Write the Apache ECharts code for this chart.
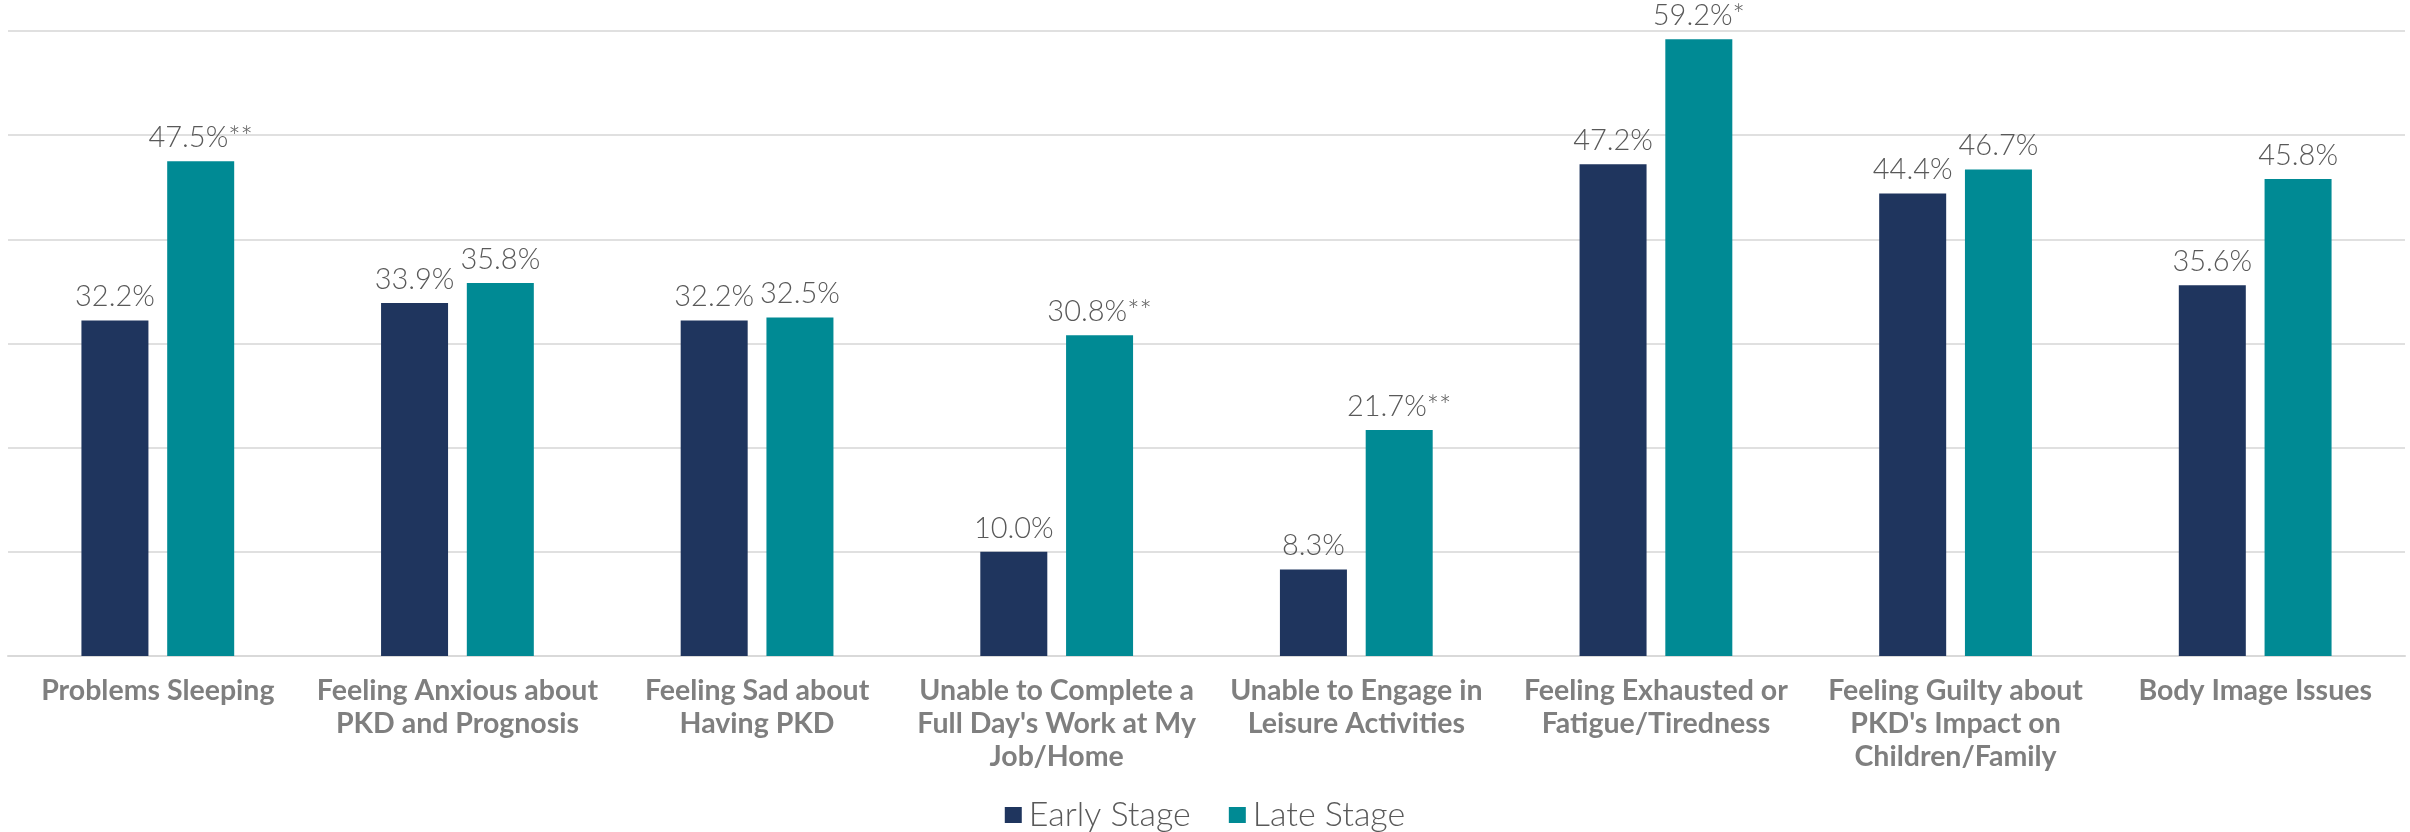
<!DOCTYPE html>
<html>
<head>
<meta charset="utf-8">
<script src="https://cdn.jsdelivr.net/npm/echarts@6/dist/echarts.min.js"></script>
<style>
html,body{margin:0;padding:0;background:#fff;}
#chart{width:2410px;height:832px;}
</style>
</head>
<body>
<div id="chart"></div>
<script>
const categories = [
  "Problems Sleeping",
  "Feeling Anxious about\nPKD and Prognosis",
  "Feeling Sad about\nHaving PKD",
  "Unable to Complete a\nFull Day's Work at My\nJob/Home",
  "Unable to Engage in\nLeisure Activities",
  "Feeling Exhausted or\nFatigue/Tiredness",
  "Feeling Guilty about\nPKD's Impact on\nChildren/Family",
  "Body Image Issues"
];
const seriesNames = ["Early Stage", "Late Stage"];
const earlyStage = [32.2, 33.9, 32.2, 10.0, 8.3, 47.2, 44.4, 35.6];
const lateStage = [47.5, 35.8, 32.5, 30.8, 21.7, 59.2, 46.7, 45.8];
const earlyMarks = ["", "", "", "", "", "", "", ""];
const lateMarks = ["**", "", "", "**", "**", "*", "", ""];
const yTicks = [0, 10, 20, 30, 40, 50, 60];

const chart = echarts.init(document.getElementById('chart'), null, {renderer: 'canvas'});
const labelStyle = (marks) => ({
  show: true,
  position: 'top',
  distance: 9,
  fontFamily: 'Lato',
  fontWeight: 300,
  fontSize: 29,
  color: '#595959',
  formatter: p => p.value.toFixed(1) + '%' + marks[p.dataIndex]
});
chart.setOption({
  animation: false,
  backgroundColor: '#ffffff',
  grid: {left: 8, right: 5, top: 31, bottom: 176, containLabel: false},
  legend: {
    data: seriesNames,
    top: 793,
    left: 'center',
    itemWidth: 17,
    itemHeight: 16,
    itemGap: 38,
    icon: 'rect',
    textStyle: {fontFamily: 'Lato', fontWeight: 300, fontSize: 34, color: '#595959', padding: [0, 0, 0, 2]}
  },
  xAxis: {
    type: 'category',
    data: categories,
    axisLine: {show: true, lineStyle: {color: '#d9d9d9', width: 2}},
    axisTick: {show: false},
    axisLabel: {
      interval: 0,
      margin: 18,
      fontFamily: 'Lato',
      fontWeight: 'bold',
      fontSize: 28.5,
      lineHeight: 33,
      color: '#7f7f7f'
    }
  },
  yAxis: {
    type: 'value',
    min: yTicks[0],
    max: yTicks[yTicks.length - 1],
    interval: 10,
    axisLabel: {show: false},
    axisLine: {show: false},
    axisTick: {show: false},
    splitLine: {show: true, lineStyle: {color: '#e0e0e0', width: 2}}
  },
  series: [
    {
      name: seriesNames[0],
      type: 'bar',
      data: earlyStage,
      barWidth: 67,
      barGap: '28%',
      itemStyle: {color: '#1F355E'},
      label: labelStyle(earlyMarks)
    },
    {
      name: seriesNames[1],
      type: 'bar',
      data: lateStage,
      barWidth: 67,
      barGap: '28%',
      itemStyle: {color: '#008A94'},
      label: labelStyle(lateMarks)
    }
  ]
});
</script>
</body>
</html>
